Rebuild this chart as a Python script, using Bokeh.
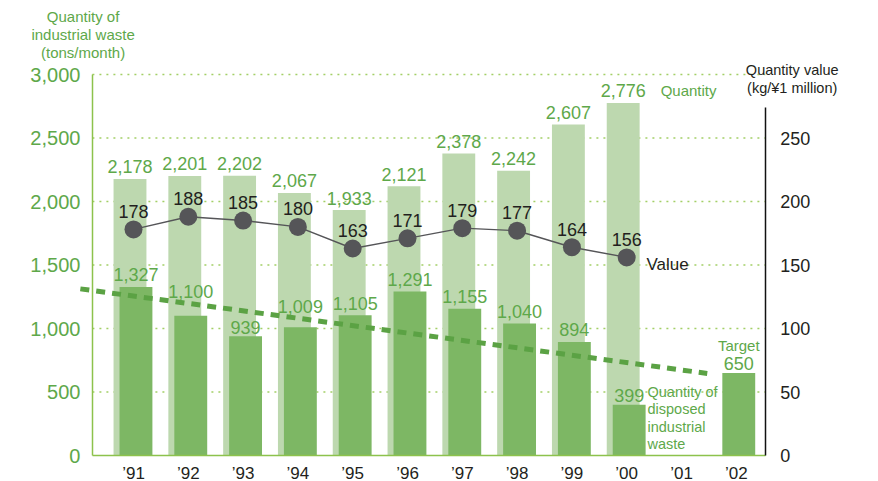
from bokeh.plotting import figure
from bokeh.models import Range1d, LinearAxis, FixedTicker, Label, NumeralTickFormatter
from bokeh.embed import file_html
from bokeh.resources import INLINE

# ---------------- data ----------------
years = ["’91", "’92", "’93", "’94", "’95", "’96", "’97", "’98", "’99", "’00", "’01", "’02"]
quantity_years = ["’91", "’92", "’93", "’94", "’95", "’96", "’97", "’98", "’99", "’00"]
quantity = [2178, 2201, 2202, 2067, 1933, 2121, 2378, 2242, 2607, 2776]
disposed_years = ["’91", "’92", "’93", "’94", "’95", "’96", "’97", "’98", "’99", "’00", "’02"]
disposed = [1327, 1100, 939, 1009, 1105, 1291, 1155, 1040, 894, 399, 650]
value_years = ["’91", "’92", "’93", "’94", "’95", "’96", "’97", "’98", "’99", "’00"]
value = [178, 188, 185, 180, 163, 171, 179, 177, 164, 156]
trend_x = [-0.97, 10.47]          # dashed reduction line, start / end (category units)
trend = [1312, 646]               # tons/month
left_ticks = [0, 500, 1000, 1500, 2000, 2500, 3000]
right_ticks = [0, 50, 100, 150, 200, 250]

# ---------------- style ----------------
FONT = "Liberation Sans"
GREEN_TXT = "#5ea84a"
LIGHT = "#bdd8af"
DARK = "#7db764"
DASH = "#5ba244"
AXIS_G = "#8dc24c"
GRID_G = "#a3cf66"
BLACK = "#231f20"
GRAY = "#555558"

W, H = 878, 481
X0_PX, STEP_PX = 133.0, 54.8        # pixel position of first category, category spacing
BASE_PX, PLOT_H = 455.0, 381.0      # pixel row of zero, height of 0..3000
X_LEFT, X_RIGHT = -0.75, 11.53      # axis positions in category units
BFIX = 6                            # baseline correction for labels (px)

idx = {y: i for i, y in enumerate(years)}
LOFF, DOFF = -0.064, 0.045
BW = 0.6

xr = Range1d(-X0_PX / STEP_PX, (W - X0_PX) / STEP_PX)
yr = Range1d(-(H - BASE_PX) / PLOT_H * 3000, BASE_PX / PLOT_H * 3000)

p = figure(width=W, height=H, x_range=xr, y_range=yr,
           output_backend="svg", toolbar_location=None, min_border=0)
p.outline_line_color = None
p.background_fill_color = "white"
p.extra_y_ranges = {"v": Range1d(yr.start / 10, yr.end / 10)}

# grid (dotted, between the two value axes)
p.xgrid.visible = False
p.ygrid.visible = False
gt = left_ticks[1:]
p.segment(x0=[X_LEFT] * len(gt), x1=[X_RIGHT] * len(gt), y0=gt, y1=gt,
          line_color=GRID_G, line_dash="2 5", line_width=1.5)

# left axis
ya = p.yaxis[0]
ya.fixed_location = X_LEFT
ya.bounds = (0, 3000)
ya.ticker = FixedTicker(ticks=left_ticks)
ya.formatter = NumeralTickFormatter(format="0,0")
ya.axis_line_color = AXIS_G
ya.axis_line_width = 1.5
ya.major_tick_line_color = None
ya.minor_tick_line_color = None
ya.major_label_standoff = 6
ya.major_label_text_font = FONT
ya.major_label_text_font_size = "20px"
ya.major_label_text_color = GREEN_TXT

# bottom axis
xa = p.xaxis[0]
xa.fixed_location = 0
xa.bounds = (X_LEFT, X_RIGHT)
xa.ticker = FixedTicker(ticks=list(range(len(years))))
xa.major_label_overrides = {i: y for i, y in enumerate(years)}
xa.axis_line_color = AXIS_G
xa.axis_line_width = 1.5
xa.major_tick_line_color = None
xa.minor_tick_line_color = None
xa.major_label_standoff = 2
xa.major_label_text_font = FONT
xa.major_label_text_font_size = "17px"
xa.major_label_text_color = BLACK

# right axis
ra = LinearAxis(y_range_name="v", ticker=FixedTicker(ticks=right_ticks), bounds=(0, 274),
                fixed_location=X_RIGHT)
ra.axis_line_color = "#111111"
ra.axis_line_width = 1.5
ra.major_tick_line_color = None
ra.minor_tick_line_color = None
ra.major_label_standoff = 9
ra.major_label_text_font = FONT
ra.major_label_text_font_size = "18px"
ra.major_label_text_color = BLACK
p.add_layout(ra, "right")

# bars
qx = [idx[y] + LOFF for y in quantity_years]
dx = [idx[y] + DOFF for y in disposed_years]
p.vbar(x=qx, top=quantity, width=BW, fill_color=LIGHT, line_color=None)
p.vbar(x=dx, top=disposed, width=BW, fill_color=DARK, line_color=None)

# dashed reduction line
p.line(trend_x, trend, line_color=DASH, line_width=5, line_dash="9 7")

# value line
vx = [idx[y] for y in value_years]
p.line(vx, value, y_range_name="v", line_color=GRAY, line_width=1.4)
p.scatter(vx, value, y_range_name="v", size=18, fill_color=GRAY, line_color=None)


def lab(x, y, text, size, color, align="center", yoff=0, rng="default"):
    p.add_layout(Label(x=x, y=y, text=text, y_offset=yoff + BFIX, text_align=align,
                       text_baseline="alphabetic", text_font=FONT, text_font_size=size,
                       text_color=color, y_range_name=rng))


for x, q in zip(qx, quantity):
    lab(x, q, f"{q:,}", "18px", GREEN_TXT, yoff=6)

gaps = {"’92": 18, "’93": 3, "’94": 15, "’00": 3, "’02": 3}
for y, x, d in zip(disposed_years, dx, disposed):
    lab(x, d, f"{d:,}", "18px", GREEN_TXT, yoff=gaps.get(y, 6))

for x, v in zip(vx, value):
    lab(x, v, f"{v}", "18px", BLACK, yoff=12, rng="v")

# titles / annotations
for t, yy in zip(["Quantity of", "industrial waste", "(tons/month)"], [3409, 3268, 3126]):
    lab(-0.92, yy, t, "15px", GREEN_TXT)
for t, yy in zip(["Quantity value", "(kg/¥1 million)"], [2992, 2850]):
    lab(12.02, yy, t, "14.5px", BLACK)
lab(9.62, 2827, "Quantity", "15px", GREEN_TXT, align="left")
lab(9.36, 1457, "Value", "17px", BLACK, align="left")
for t, yy in zip(["Quantity of", "disposed", "industrial", "waste"], [449, 315, 181, 47]):
    lab(9.38, yy, t, "14.5px", GREEN_TXT, align="left")
lab(idx["’02"] + DOFF, disposed[-1], "Target", "15px", GREEN_TXT, yoff=21)

open("out.html", "w").write(file_html(p, INLINE))
